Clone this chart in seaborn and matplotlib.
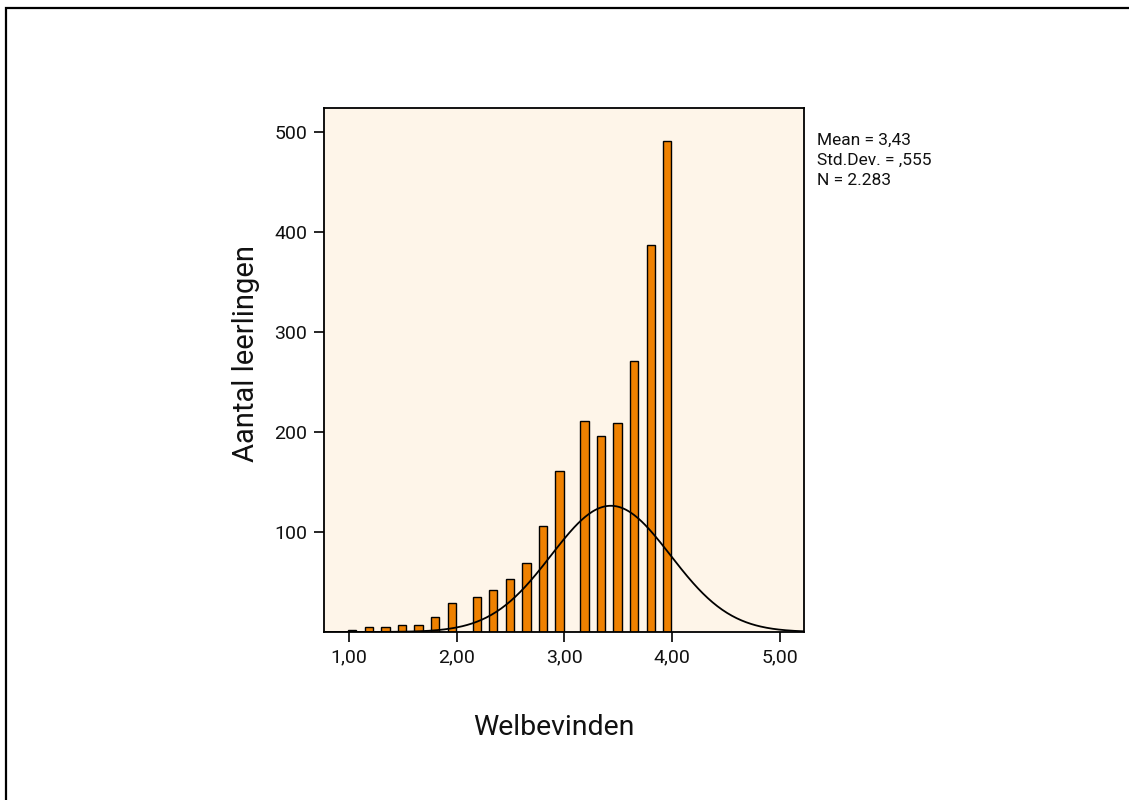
import numpy as np
import pandas as pd
import matplotlib
matplotlib.use("Agg")
import matplotlib.pyplot as plt
from matplotlib.patches import Rectangle
import seaborn as sns

# Welbevinden scores (bin centres) and number of pupils per score
welbevinden = [1.03, 1.18, 1.34, 1.49, 1.65, 1.80, 1.95,
               2.18, 2.34, 2.49, 2.65, 2.80, 2.95,
               3.18, 3.33, 3.49, 3.64, 3.80, 3.95]
aantal = [2, 5, 5, 7, 7, 15, 29,
          35, 42, 53, 69, 106, 161,
          211, 196, 209, 271, 387, 491]

# Summary statistics shown next to the plot
mean_val = 3.43
std_val = 0.555
n_val = 2283
stats_lines = ["Mean = 3,43", "Std.Dev. = ,555", "N = 2.283"]

x_ticks = [1, 2, 3, 4, 5]
x_ticklabels = ["1,00", "2,00", "3,00", "4,00", "5,00"]
y_ticks = [100, 200, 300, 400, 500]

bin_width = 1 / 13
bin_start = 0.9925
n_bins = 39

sns.set_theme(style="white")
plt.rcParams["font.family"] = ["Roboto", "DejaVu Sans"]

fig = plt.figure(figsize=(11.29, 8), dpi=100)
ax = fig.add_axes([324 / 1129, 1 - 632 / 800, 480 / 1129, 524 / 800])
ax.set_facecolor("#FEF5E9")

df = pd.DataFrame({"Welbevinden": welbevinden, "Aantal": aantal})
sns.histplot(data=df, x="Welbevinden", weights="Aantal",
             binwidth=bin_width, binrange=(bin_start, bin_start + n_bins * bin_width),
             color="#EF8100", edgecolor="black", linewidth=1.0, alpha=1.0,
             ax=ax, zorder=2)

# Fitted normal curve scaled to counts per bin
xlim = (0.768, 5.223)
xs = np.linspace(xlim[0], xlim[1], 400)
ys = n_val * bin_width / (std_val * np.sqrt(2 * np.pi)) * np.exp(-0.5 * ((xs - mean_val) / std_val) ** 2)
sns.lineplot(x=xs, y=ys, color="black", linewidth=1.3, ax=ax, zorder=3)

ax.set_xlim(*xlim)
ax.set_ylim(0, 524)
ax.set_xticks(x_ticks)
ax.set_xticklabels(x_ticklabels)
ax.set_yticks(y_ticks)
ax.tick_params(axis="both", which="major", direction="out", length=7, width=1.2,
               color="black", labelsize=14, labelcolor="#111111", pad=5,
               bottom=True, left=True)
for side in ax.spines.values():
    side.set_visible(True)
    side.set_color("black")
    side.set_linewidth(1.3)

ax.set_xlabel("Welbevinden", fontsize=20.5, color="#111111", va="center")
ax.set_ylabel("Aantal leerlingen", fontsize=21, color="#111111", va="center")
ax.xaxis.set_label_coords(0.479, -0.183)
ax.yaxis.set_label_coords(-0.1625, 0.532)

fig.text(817 / 1129, 1 - 160 / 800, "\n".join(stats_lines), fontsize=12.5,
         color="#111111", va="center", ha="left", linespacing=1.42)

# Outer frame around the chart
fig.patches.append(Rectangle((6 / 1129, -0.2), 1.2, 1.2 - 8 / 800,
                             transform=fig.transFigure, fill=False,
                             edgecolor="black", linewidth=1.6))

fig.savefig("out.png", dpi=100)
